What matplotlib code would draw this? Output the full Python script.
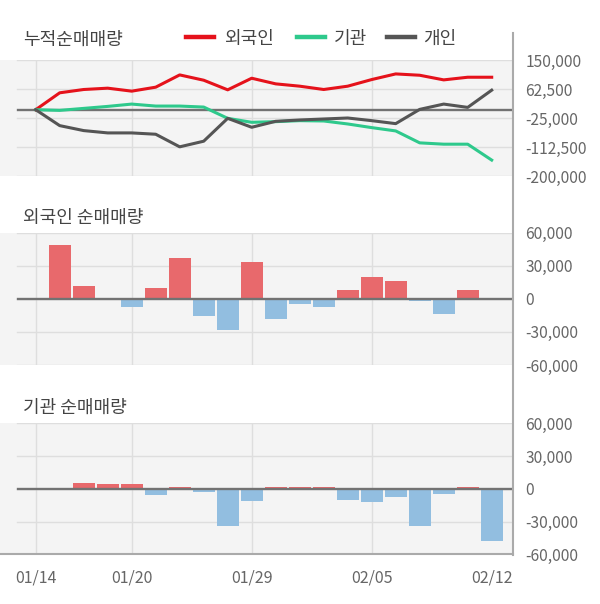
import matplotlib
matplotlib.use("Agg")
import matplotlib.pyplot as plt
from matplotlib.lines import Line2D

plt.rcParams['font.family'] = ['Noto Sans CJK KR', 'DejaVu Sans']

dates = ['01/14', '01/15', '01/16', '01/17', '01/20', '01/21', '01/22', '01/23', '01/28', '01/29',
         '01/30', '01/31', '02/03', '02/04', '02/05', '02/06', '02/07', '02/10', '02/11', '02/12']
tick_dates = ['01/14', '01/20', '01/29', '02/05', '02/12']
grid_dates = ['01/14', '01/20', '01/29', '02/05']

foreign_cum = [0, 51000, 61000, 65000, 56000, 68000, 105000, 89000, 60000, 95000,
               78000, 71000, 61000, 71000, 91000, 108000, 104000, 90000, 98000, 98000]
inst_cum = [0, -2000, 4000, 10000, 17000, 11000, 11000, 8000, -26000, -38000,
            -36000, -33000, -34000, -43000, -54000, -64000, -100000, -104000, -104000, -152000]
indiv_cum = [0, -48000, -63000, -70000, -70000, -74000, -112000, -95000, -26000, -53000,
             -35000, -31000, -28000, -25000, -33000, -42000, 1000, 17000, 7000, 59000]

foreign_net = [0, 49000, 12000, 1200, -7500, 10200, 37200, -15900, -28500, 33600,
               -18300, -4800, -7500, 7800, 20100, 15900, -2100, -13800, 7800, 0]
inst_net = [0, -500, 5700, 4800, 4800, -5700, 1200, -3000, -34500, -11400,
            1200, 2100, 1200, -10200, -12300, -7500, -34500, -5100, 1200, -48000]

cum_ticks = [150000, 62500, -25000, -112500, -200000]
cum_labels = ['150,000', '62,500', '-25,000', '-112,500', '-200,000']
net_ticks = [60000, 30000, 0, -30000, -60000]
net_labels = ['60,000', '30,000', '0', '-30,000', '-60,000']

legend_names = ['외국인', '기관', '개인']
line_colors = ['#e5121b', '#2ec98c', '#555555']
pos_color = '#e8696c'
neg_color = '#92bee0'
bg = '#f4f4f4'
grid_c = '#dedede'
text_c = '#666666'
title_c = '#444444'

W, H = 600, 604
fig = plt.figure(figsize=(6.0, 6.04), dpi=100)

x = list(range(len(dates)))
xl = (-35.7 / 24.0, (513 - 35.7) / 24.0)
tick_fs = 11.2
title_fs = 13


def make_ax(top, bottom):
    ax = fig.add_axes([0, 1 - bottom / H, 513 / W, (bottom - top) / H])
    ax.set_facecolor(bg)
    ax.set_xlim(*xl)
    for s in ax.spines.values():
        s.set_visible(False)
    return ax


def style(ax, ticks, labels, ylim):
    ax.set_ylim(*ylim)
    ax.yaxis.tick_right()
    ax.set_yticks(ticks)
    ax.set_yticklabels(labels)
    ax.tick_params(axis='y', length=0, pad=9, labelsize=tick_fs, labelcolor=text_c)
    for t in ticks:
        ax.axhline(t, xmin=17 / 513, xmax=1, color=grid_c, lw=1, zorder=0.5)
    for d in grid_dates:
        ax.axvline(dates.index(d), color=grid_c, lw=1, zorder=0.5)
    ax.axhline(0, xmin=18 / 513, xmax=1, color='#727272', lw=1.7, zorder=3)


# top panel
ax1 = make_ax(60, 176)
style(ax1, cum_ticks, cum_labels, (-200000, 150000))
for vals, c in zip([foreign_cum, inst_cum, indiv_cum], line_colors):
    ax1.plot(x, vals, color=c, lw=2.2, zorder=4, solid_joinstyle='round')
ax1.set_xticks([])


def bars(ax, vals):
    cols = [pos_color if v >= 0 else neg_color for v in vals]
    ax.bar(x, vals, width=0.92, color=cols, zorder=2)


ax2 = make_ax(232.7, 365)
style(ax2, net_ticks, net_labels, (-60000, 60000))
bars(ax2, foreign_net)
ax2.set_xticks([])

ax3 = make_ax(423.3, 554.3)
style(ax3, net_ticks, net_labels, (-60000, 60000))
bars(ax3, inst_net)
ax3.spines['bottom'].set_visible(True)
ax3.spines['bottom'].set_color('#aaaaaa')
ax3.spines['bottom'].set_linewidth(1.5)
ax3.set_xticks([dates.index(d) for d in tick_dates])
ax3.set_xticklabels(tick_dates)
ax3.tick_params(axis='x', length=0, pad=11, labelsize=11.5, labelcolor=text_c)

# right axis line
fig.add_artist(Line2D([512.7 / W, 512.7 / W], [1 - 33 / H, 1 - 555 / H], color='#aaaaaa', lw=1.5))

# titles
fig.text(22.7 / W, 1 - 40 / H, '누적순매매량', fontsize=title_fs, color=title_c, va='center', ha='left')
fig.text(22.7 / W, 1 - 218 / H, '외국인 순매매량', fontsize=title_fs, color=title_c, va='center', ha='left')
fig.text(22.7 / W, 1 - 408 / H, '기관 순매매량', fontsize=title_fs, color=title_c, va='center', ha='left')

# legend
leg_x = [(185.8, 213.5, 224), (297, 325, 334), (386.5, 415, 423)]
for (x0, x1, tx), name, c in zip(leg_x, legend_names, line_colors):
    fig.add_artist(Line2D([x0 / W, x1 / W], [1 - 37 / H, 1 - 37 / H], color=c, lw=3.2))
    fig.text(tx / W, 1 - 39 / H, name, fontsize=title_fs, color=title_c, va='center', ha='left')

fig.savefig('out.png', dpi=100)
